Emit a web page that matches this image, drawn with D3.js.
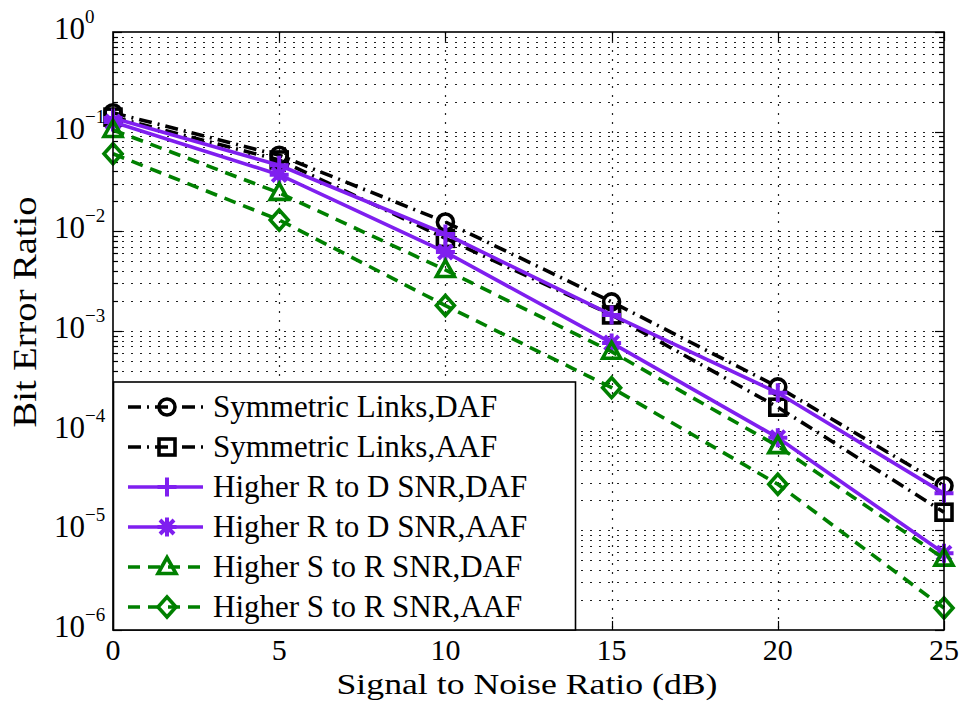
<!DOCTYPE html>
<html>
<head>
<meta charset="utf-8">
<script src="https://cdn.jsdelivr.net/npm/d3@7"></script>
<style>
  html, body { margin: 0; padding: 0; background: #fff; }
  svg { display: block; font-family: "Liberation Serif", "Times New Roman", serif; }
</style>
</head>
<body>
<svg id="chart" width="960" height="704"></svg>
<script>
// SNR points (dB)
const snr = [0, 5, 10, 15, 20, 25];

// Bit error ratio for each scheme
const symDAF  = [0.155, 0.058, 0.0124, 0.00196, 2.75e-4, 2.8e-5];
const symAAF  = [0.14, 0.052, 0.0085, 0.00145, 1.72e-4, 1.52e-5];
const rdDAF   = [0.137, 0.046, 0.0094, 0.00145, 2.4e-4, 2.35e-5];
const rdAAF   = [0.125, 0.037, 0.0062, 7.6e-4, 8.5e-5, 5.9e-6];
const srDAF   = [0.104, 0.0243, 0.0041, 6.2e-4, 7.0e-5, 5.2e-6];
const srAAF   = [0.06, 0.013, 0.0018, 2.7e-4, 2.9e-5, 1.66e-6];

const seriesNames = [
  "Symmetric Links,DAF",
  "Symmetric Links,AAF",
  "Higher R to D SNR,DAF",
  "Higher R to D SNR,AAF",
  "Higher S to R SNR,DAF",
  "Higher S to R SNR,AAF"
];

const xTicks = [0, 5, 10, 15, 20, 25];
const yExponents = [0, -1, -2, -3, -4, -5, -6];

const xLabel = "Signal to Noise Ratio (dB)";
const yLabel = "Bit Error Ratio";

const black = "#000000", violet = "#7f1fef", green = "#008000";
const dashDot = "13,6,2,6", dashed = "12,8";
const LW = 3.6;

const series = [
  { name: seriesNames[0], values: symDAF, color: black,  dash: dashDot, marker: "circle" },
  { name: seriesNames[1], values: symAAF, color: black,  dash: dashDot, marker: "square" },
  { name: seriesNames[2], values: rdDAF,  color: violet, dash: null,    marker: "plus" },
  { name: seriesNames[3], values: rdAAF,  color: violet, dash: null,    marker: "star" },
  { name: seriesNames[4], values: srDAF,  color: green,  dash: dashed,  marker: "triangle" },
  { name: seriesNames[5], values: srAAF,  color: green,  dash: dashed,  marker: "diamond" }
];

const svg = d3.select("#chart");
const L = 113, R = 944, T = 32, B = 630;

const x = d3.scaleLinear().domain([0, 25]).range([L, R]);
const y = d3.scaleLog().domain([1e-6, 1]).range([B, T]);

// grid values: every minor decade step
const yGrid = [];
for (let e = -6; e < 0; e++) for (let m = 1; m < 10; m++) yGrid.push(m * Math.pow(10, e));
yGrid.push(1);

const grid = svg.append("g").attr("stroke", "#222").attr("stroke-width", 1.2)
  .attr("stroke-dasharray", "2,7").attr("fill", "none");
grid.selectAll(".gy").data(yGrid.filter(v => v > 1e-6 && v < 1)).join("line")
  .attr("x1", L).attr("x2", R)
  .attr("y1", d => Math.round(y(d)) + 0.5).attr("y2", d => Math.round(y(d)) + 0.5);
grid.selectAll(".gx").data(xTicks.filter(v => v > 0 && v < 25)).join("line")
  .attr("y1", T).attr("y2", B)
  .attr("x1", d => Math.round(x(d)) + 0.5).attr("x2", d => Math.round(x(d)) + 0.5);

// ticks (inside, on all four sides)
const ticks = svg.append("g").attr("stroke", "#000").attr("stroke-width", 1.2);
yGrid.forEach(v => {
  const major = Math.abs(Math.log10(v) - Math.round(Math.log10(v))) < 1e-9;
  const len = major ? 9 : 5;
  const yy = Math.round(y(v)) + 0.5;
  ticks.append("line").attr("x1", L).attr("x2", L + len).attr("y1", yy).attr("y2", yy);
  ticks.append("line").attr("x1", R).attr("x2", R - len).attr("y1", yy).attr("y2", yy);
});
xTicks.forEach(v => {
  const xx = Math.round(x(v)) + 0.5;
  ticks.append("line").attr("x1", xx).attr("x2", xx).attr("y1", B).attr("y2", B - 9);
  ticks.append("line").attr("x1", xx).attr("x2", xx).attr("y1", T).attr("y2", T + 9);
});

// marker drawing
function drawMarker(g, type, color) {
  const sw = 3.6;
  switch (type) {
    case "circle":
      g.append("circle").attr("r", 8).attr("fill", "none").attr("stroke", color).attr("stroke-width", sw);
      break;
    case "square":
      g.append("rect").attr("x", -8).attr("y", -8).attr("width", 16).attr("height", 16)
        .attr("fill", "none").attr("stroke", color).attr("stroke-width", sw);
      break;
    case "plus":
      g.append("path").attr("d", "M-9.5,0H9.5M0,-9.5V9.5").attr("stroke", color).attr("stroke-width", sw + 0.4);
      break;
    case "star":
      g.append("path").attr("d", "M-9.5,0H9.5M0,-9.5V9.5M-7,-7L7,7M-7,7L7,-7")
        .attr("stroke", color).attr("stroke-width", sw + 0.4);
      g.append("circle").attr("r", 5.5).attr("fill", color);
      break;
    case "triangle":
      g.append("path").attr("d", "M0,-9.5L9,6.5L-9,6.5Z").attr("fill", "none")
        .attr("stroke", color).attr("stroke-width", sw).attr("stroke-linejoin", "miter");
      break;
    case "diamond":
      g.append("path").attr("d", "M0,-10L9,0L0,10L-9,0Z").attr("fill", "none")
        .attr("stroke", color).attr("stroke-width", sw);
      break;
  }
}

const line = d3.line().x((d, i) => x(snr[i])).y(d => y(d));

series.forEach(s => {
  const g = svg.append("g");
  g.append("path").datum(s.values).attr("d", line)
    .attr("fill", "none").attr("stroke", s.color).attr("stroke-width", LW)
    .attr("stroke-dasharray", s.dash);
  s.values.forEach((v, i) => {
    const m = g.append("g").attr("transform", `translate(${x(snr[i])},${y(v)})`);
    drawMarker(m, s.marker, s.color);
  });
});

// axes box
svg.append("rect").attr("x", L).attr("y", T).attr("width", R - L).attr("height", B - T)
  .attr("fill", "none").attr("stroke", "#000").attr("stroke-width", 1.6);

// x tick labels
svg.append("g").selectAll("text").data(xTicks).join("text")
  .attr("x", d => x(d)).attr("y", 660).attr("text-anchor", "middle")
  .attr("font-size", 30).text(d => d);

// y tick labels: 10 with superscript exponent
const yl = svg.append("g");
yExponents.forEach(e => {
  const t = yl.append("text").attr("x", 54).attr("y", y(Math.pow(10, e)) + 7).attr("font-size", 31);
  t.append("tspan").text("10");
  t.append("tspan").attr("dy", -16).attr("font-size", 19).text(e < 0 ? "\u2212" + (-e) : String(e));
});

// axis titles
svg.append("text").attr("x", 527).attr("y", 694).attr("text-anchor", "middle")
  .attr("font-size", 30).attr("textLength", 381).attr("lengthAdjust", "spacingAndGlyphs")
  .text(xLabel);
svg.append("text").attr("transform", "translate(36,312) rotate(-90)")
  .attr("text-anchor", "middle").attr("font-size", 34)
  .attr("textLength", 231).attr("lengthAdjust", "spacingAndGlyphs").text(yLabel);

// legend
const leg = svg.append("g");
leg.append("rect").attr("x", L + 0.5).attr("y", 382).attr("width", 575 - L).attr("height", B - 382)
  .attr("fill", "#fff").attr("stroke", "#000").attr("stroke-width", 1.6);
series.forEach((s, i) => {
  const cy = 407 + i * 40;
  const g = leg.append("g");
  g.append("line").attr("x1", 128).attr("x2", 203).attr("y1", cy).attr("y2", cy)
    .attr("stroke", s.color).attr("stroke-width", LW).attr("stroke-dasharray", s.dash);
  const m = g.append("g").attr("transform", `translate(167,${cy})`);
  drawMarker(m, s.marker, s.color);
  g.append("text").attr("x", 213).attr("y", cy + 10).attr("font-size", 31).text(s.name);
});
</script>
</body>
</html>
